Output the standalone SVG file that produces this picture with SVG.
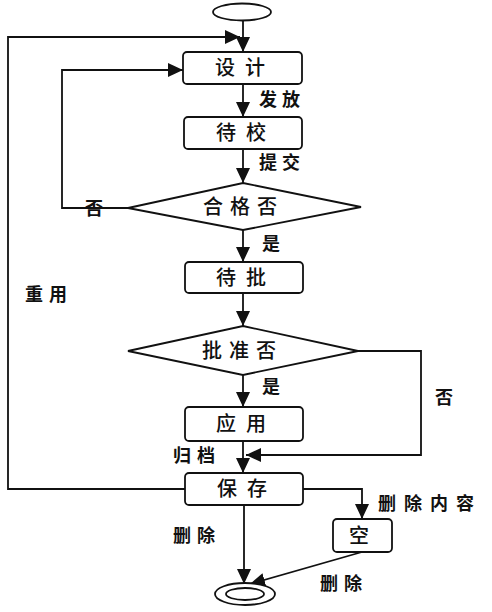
<svg xmlns="http://www.w3.org/2000/svg" width="492" height="612" viewBox="0 0 492 612">
<defs>
<marker id="ah" viewBox="0 0 15 14" refX="15" refY="7" markerWidth="15" markerHeight="14" markerUnits="userSpaceOnUse" orient="auto">
<path d="M0,0 L15,7 L0,14 Z" fill="#111"/>
</marker>
</defs>
<style>
.box{fill:#fff;stroke:#111;stroke-width:1.8}
.ln{fill:none;stroke:#111;stroke-width:1.8}
.arr{fill:none;stroke:#111;stroke-width:1.8;marker-end:url(#ah)}
.t{font-family:"Noto Sans CJK SC","Noto Sans CJK JP",sans-serif;font-size:20px;font-weight:500;fill:#111}
.lb{font-family:"Noto Sans CJK SC","Noto Sans CJK JP",sans-serif;font-size:18px;font-weight:700;fill:#111}
</style>
<rect width="492" height="612" fill="#fff"/>
<g id="connectors">
<path class="arr" d="M243,20 V52"/>
<path class="arr" d="M185,489 H8 V37 H240"/>
<path class="arr" d="M128,208 H62 V70 H183"/>
<path class="arr" d="M243,84 V117"/>
<path class="arr" d="M243,149 V183"/>
<path class="arr" d="M243,230 V262"/>
<path class="arr" d="M243,293 V326"/>
<path class="arr" d="M243,375 V407"/>
<path class="arr" d="M358,351 H421 V455 H246"/>
<path class="arr" d="M243,441 V473"/>
<path class="arr" d="M244,505 V584"/>
<path class="arr" d="M303,489 H362 V519"/>
<path class="arr" d="M362,552 L250,584"/>
<text class="lb" x="259" y="106" letter-spacing="5">发放</text>
<text class="lb" x="259" y="169" letter-spacing="5">提交</text>
<text class="lb" x="85" y="215" font-weight="400">否</text>
<text class="lb" x="262" y="250">是</text>
<text class="lb" x="262" y="393">是</text>
<text class="lb" x="435" y="404" font-weight="400">否</text>
<text class="lb" x="25" y="301" letter-spacing="6">重用</text>
<text class="lb" x="173" y="462" letter-spacing="6">归档</text>
<text class="lb" x="173" y="542" letter-spacing="6">删除</text>
<text class="lb" x="378" y="510" letter-spacing="8">删除内容</text>
<text class="lb" x="320" y="590" letter-spacing="6">删除</text>
</g>
<g id="start"><ellipse cx="242" cy="12" rx="29" ry="8.5" class="box"/></g>
<g id="design"><rect class="box" x="183" y="52" width="119" height="32" rx="4"/><text class="t" x="215" y="75" letter-spacing="10">设计</text></g>
<g id="check"><rect class="box" x="184" y="117" width="118" height="32" rx="4"/><text class="t" x="216" y="140" letter-spacing="10">待校</text></g>
<g id="qualified"><polygon class="box" points="243,183 361,207 243,230 128,208"/><text class="t" x="203" y="214" letter-spacing="7">合格否</text></g>
<g id="approve"><rect class="box" x="185" y="262" width="118" height="31" rx="4"/><text class="t" x="216" y="285" letter-spacing="10">待批</text></g>
<g id="approved"><polygon class="box" points="243,326 358,351 243,375 128,351"/><text class="t" x="202" y="358" letter-spacing="7">批准否</text></g>
<g id="apply"><rect class="box" x="185" y="407" width="118" height="34" rx="4"/><text class="t" x="216" y="431" letter-spacing="10">应用</text></g>
<g id="save"><rect class="box" x="185" y="473" width="118" height="32" rx="4"/><text class="t" x="217" y="496" letter-spacing="10">保存</text></g>
<g id="empty"><rect class="box" x="333" y="519" width="59" height="33" rx="4"/><text class="t" x="349" y="543">空</text></g>
<g id="end"><ellipse cx="245" cy="594" rx="30" ry="11" class="box"/><ellipse cx="245" cy="594" rx="19" ry="6" class="box"/></g>
</svg>
